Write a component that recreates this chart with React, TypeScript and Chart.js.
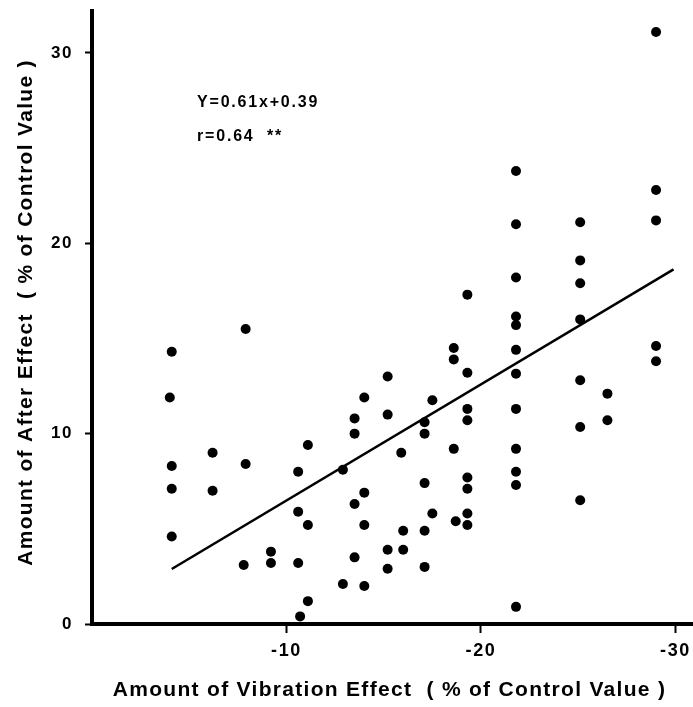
import React, { useEffect, useRef } from "react";
import { Chart, registerables } from "chart.js";

Chart.register(...registerables);

const xValues = [
  -7.9, -4.1, -4.0, -4.1, -4.1, -4.1, -6.2, -6.2, -7.9, -7.8,
  -9.2, -9.2, -10.6, -11.1, -10.6, -11.1, -10.6, -11.1, -10.7, -12.9,
  -13.5, -13.5, -14.0, -15.2, -15.2, -14.0, -13.5, -14.0, -13.5, -15.2,
  -15.2, -12.9, -14.0,
  -15.9, -16.0, -16.0, -17.5, -17.1, -17.1, -17.1, -17.5, -17.1, -17.1,
  -18.6, -18.6, -18.6, -18.7, -19.3, -19.3, -19.3, -19.3, -19.3, -19.3, -19.3, -19.3,
  -21.8, -21.8, -21.8, -21.8, -21.8, -21.8, -21.8, -21.8, -21.8, -21.8, -21.8, -21.8,
  -25.1, -25.1, -25.1, -25.1, -25.1, -25.1, -25.1,
  -26.5, -26.5,
  -29.0, -29.0, -29.0, -29.0, -29.0,
];
const yValues = [
  15.5, 14.3, 11.9, 8.3, 7.1, 4.6, 9.0, 7.0, 8.4, 3.1,
  3.8, 3.2, 8.0, 9.4, 5.9, 5.2, 3.2, 1.2, 0.4, 8.1,
  10.8, 10.0, 11.9, 13.0, 11.0, 6.9, 6.3, 5.2, 3.5, 3.9,
  2.9, 2.1, 2.0,
  9.0, 4.9, 3.9, 11.75, 10.6, 10.0, 7.4, 5.8, 4.9, 3.0,
  14.5, 13.9, 9.2, 5.4, 17.3, 13.2, 11.3, 10.7, 7.7, 7.1, 5.8, 5.2,
  23.8, 21.0, 18.2, 16.15, 15.7, 14.4, 13.15, 11.3, 9.2, 8.0, 7.3, 0.9,
  21.1, 19.1, 17.9, 16.0, 12.8, 10.35, 6.5,
  12.1, 10.7,
  31.1, 22.8, 21.2, 14.6, 13.8,
];

const fitX = [-4.1, -29.9];
const fitY = [2.89, 18.63];

const xTicks = [-10, -20, -30];
const yTicks = [0, 10, 20, 30];

const annotationLines = ["Y=0.61x+0.39", "r=0.64  **"];
const annotationX = -5.4;
const annotationY = [27.4, 25.6];

const xTitle = "Amount of Vibration Effect  ( % of Control Value )";
const yTitle = "Amount of After Effect  ( % of Control Value )";

const FONT = "'Liberation Sans', Arial, sans-serif";

export default function App() {
  const ref = useRef<HTMLCanvasElement>(null);
  useEffect(() => {
    if (!ref.current) return;
    const points = xValues.map((x, i) => ({ x, y: yValues[i] }));
    const line = fitX.map((x, i) => ({ x, y: fitY[i] }));
    const spacing = {
      id: "spacing",
      beforeDraw(chart: any) {
        (chart.ctx as any).letterSpacing = "1.6px";
      },
    };
    const annotate = {
      id: "annotate",
      afterDraw(chart: any) {
        const { ctx, scales, chartArea } = chart;
        ctx.save();
        ctx.fillStyle = "#000";
        ctx.textAlign = "center";
        ctx.textBaseline = "middle";
        (ctx as any).letterSpacing = "1.3px";
        ctx.font = `bold 21px ${FONT}`;
        ctx.fillText(xTitle, (chartArea.left + chartArea.right) / 2 - 3, 690);
        ctx.save();
        ctx.translate(26, (chartArea.top + chartArea.bottom) / 2 - 5);
        ctx.rotate(-Math.PI / 2);
        ctx.fillText(yTitle, 0, 0);
        ctx.restore();
        (ctx as any).letterSpacing = "1.8px";
        ctx.font = `bold 16px ${FONT}`;
        ctx.textAlign = "left";
        annotationLines.forEach((t, i) => {
          ctx.fillText(t, scales.x.getPixelForValue(annotationX), scales.y.getPixelForValue(annotationY[i]));
        });
        ctx.restore();
      },
    };
    const chart = new Chart(ref.current, {
      type: "scatter",
      data: {
        datasets: [
          {
            data: points,
            backgroundColor: "#000",
            borderWidth: 0,
            pointRadius: 5,
          },
          {
            type: "line",
            data: line,
            borderColor: "#000",
            borderWidth: 2.5,
            pointRadius: 0,
            showLine: true,
            fill: false,
          } as any,
        ],
      },
      options: {
        responsive: false,
        animation: false,
        layout: { autoPadding: false, padding: { top: 11, right: 0, left: 0, bottom: 0 } },
        plugins: { legend: { display: false }, tooltip: { enabled: false } },
        scales: {
          x: {
            type: "linear",
            reverse: true,
            min: -30.9,
            max: 0,
            afterBuildTicks: (s: any) => {
              s.ticks = xTicks.map((v) => ({ value: v }));
            },
            afterFit: (s: any) => {
              s.height = 83;
              s.paddingLeft = 0;
              s.paddingRight = 0;
            },
            grid: {
              drawOnChartArea: false,
              drawTicks: true,
              tickLength: 9,
              tickWidth: 2,
              tickColor: "#000",
            },
            border: { display: true, color: "#000", width: 4 },
            ticks: {
              color: "#000",
              padding: 7,
              font: { family: FONT, size: 18, weight: "bold" },
            },
            title: { display: false },
          },
          y: {
            type: "linear",
            min: 0,
            max: 32.2,
            afterBuildTicks: (s: any) => {
              s.ticks = yTicks.map((v) => ({ value: v }));
            },
            afterFit: (s: any) => {
              s.width = 92;
              s.paddingTop = 0;
              s.paddingBottom = 0;
            },
            grid: {
              drawOnChartArea: false,
              drawTicks: true,
              tickLength: 7,
              tickWidth: 2,
              tickColor: "#000",
            },
            border: { display: true, color: "#000", width: 4 },
            ticks: {
              color: "#000",
              padding: 12,
              font: { family: FONT, size: 17, weight: "bold" },
            },
            title: { display: false },
          },
        },
      },
      plugins: [spacing, annotate],
    });
    return () => chart.destroy();
  }, []);
  return (
    <div style={{ position: "absolute", left: 0, top: 0, width: 693, height: 707, background: "#fff" }}>
      <canvas ref={ref} width={693} height={707} style={{ display: "block" }} />
    </div>
  );
}
